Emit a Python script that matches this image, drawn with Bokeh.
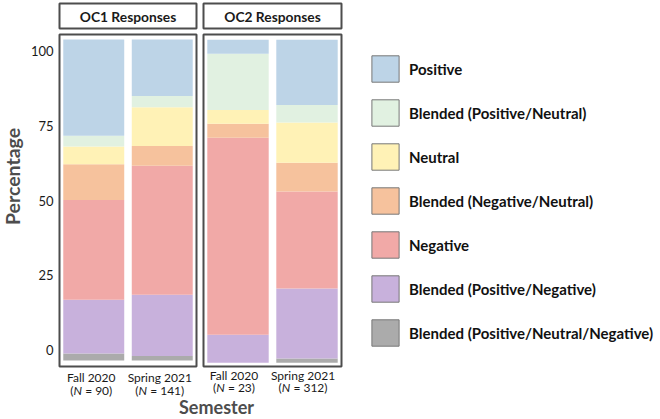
from bokeh.plotting import figure
from bokeh.models import (ColumnDataSource, FactorRange, Range1d, LinearAxis,
                          FixedTicker, Label, Legend, LegendItem)
from bokeh.layouts import row, column
from bokeh.embed import file_html
from bokeh.resources import INLINE

# ---------------- data ----------------
semesters = ["Fall 2020", "Spring 2021"]
panels = ["OC1 Responses", "OC2 Responses"]
n_oc1 = [90, 141]
n_oc2 = [23, 312]

# categories listed from top of legend to bottom
categories = ["Positive", "Blended (Positive/Neutral)", "Neutral",
              "Blended (Negative/Neutral)", "Negative",
              "Blended (Positive/Negative)", "Blended (Positive/Neutral/Negative)"]
colors = ["#BDD4E7", "#E1F1E1", "#FFF2B6", "#F6C29D", "#F1A9A7", "#C8B1DC", "#ABABAB"]

# percentages: [OC1 Fall 2020, OC1 Spring 2021]
oc1_positive = [30.0, 17.6]
oc1_blend_pos_neu = [3.3, 3.5]
oc1_neutral = [5.6, 12.1]
oc1_blend_neg_neu = [11.1, 6.1]
oc1_negative = [31.1, 40.2]
oc1_blend_pos_neg = [16.7, 19.1]
oc1_blend_all = [2.2, 1.4]

# percentages: [OC2 Fall 2020, OC2 Spring 2021]
oc2_positive = [4.3, 20.2]
oc2_blend_pos_neu = [17.4, 5.4]
oc2_neutral = [4.3, 12.5]
oc2_blend_neg_neu = [4.3, 8.9]
oc2_negative = [61.0, 30.0]
oc2_blend_pos_neg = [8.7, 21.7]
oc2_blend_all = [0.0, 1.3]

ytick_vals = [0, 25, 50, 75, 100]

# ---------------- style / layout ----------------
FONT = "Lato"
EDGE = "#4D4D4D"
TXT = "#1A1A1A"
TITLE_C = "#4D4D4D"

TOTAL_W, TOTAL_H = 660, 419
YT_W = 25            # width of the y-title strip
P1_LEFT = 34         # left border of panel 1 (tick labels)
P1_FW = 137          # frame widths
P2_FW = 138
P2_LEFT = 4
RB = 3               # right border of panels
HDR_TOP, HDR_FH, HDR_BOT = 3, 25, 3
P_TOP, FRAME_H, P_BOT = 3, 332, 3
P1_W = P1_LEFT + P1_FW + RB
P2_W = P2_LEFT + P2_FW + RB
LEFT_W = P1_W + P2_W
BOTTOM_H = TOTAL_H - (HDR_TOP + HDR_FH + HDR_BOT) - (P_TOP + FRAME_H + P_BOT)
LF_W = TOTAL_W - YT_W - LEFT_W


def panel_source(vals):
    d = {"semester": semesters}
    for c, v in zip(categories, vals):
        d[c] = v
    return ColumnDataSource(d)


oc1_vals = [oc1_positive, oc1_blend_pos_neu, oc1_neutral, oc1_blend_neg_neu,
            oc1_negative, oc1_blend_pos_neg, oc1_blend_all]
oc2_vals = [oc2_positive, oc2_blend_pos_neu, oc2_neutral, oc2_blend_neg_neu,
            oc2_negative, oc2_blend_pos_neg, oc2_blend_all]


def blank(width, height, **kw):
    f = figure(width=width, height=height, x_range=Range1d(0, 1), y_range=Range1d(0, 1),
               x_axis_location=None, y_axis_location=None,
               toolbar_location=None, output_backend="svg", **kw)
    f.grid.grid_line_color = None
    return f


def make_panel(width, left, vals, yr):
    p = figure(width=width, height=P_TOP + FRAME_H + P_BOT,
               x_range=FactorRange(*semesters, range_padding=0),
               y_range=Range1d(*yr),
               x_axis_location=None, y_axis_location=None,
               toolbar_location=None, output_backend="svg",
               min_border_left=left, min_border_right=RB,
               min_border_top=P_TOP, min_border_bottom=P_BOT,
               outline_line_color=EDGE, outline_line_width=2)
    p.grid.grid_line_color = None
    p.vbar_stack(list(reversed(categories)), x="semester", width=0.89,
                 source=panel_source(vals),
                 fill_color=list(reversed(colors)), line_color=None)
    return p


p1 = make_panel(P1_W, P1_LEFT, oc1_vals, (-1.87, 101.56))
p2 = make_panel(P2_W, P2_LEFT, oc2_vals, (-1.15, 101.64))

# y tick labels (label scale as printed in the original)
p1.extra_y_ranges = {"lab": Range1d(-5.6, 105.6)}
yax = LinearAxis(y_range_name="lab", ticker=FixedTicker(ticks=ytick_vals),
                 axis_line_color=None, major_tick_line_color=None,
                 minor_tick_line_color=None, major_tick_in=0, major_tick_out=0,
                 major_label_standoff=6, major_label_text_font=FONT,
                 major_label_text_font_size="13px", major_label_text_color=TXT)
p1.add_layout(yax, "left")


# headers
def make_header(width, left, fw, text):
    h = blank(width, HDR_TOP + HDR_FH + HDR_BOT,
              min_border_left=left, min_border_right=RB,
              min_border_top=HDR_TOP, min_border_bottom=HDR_BOT,
              outline_line_color=EDGE, outline_line_width=2)
    h.add_layout(Label(x=fw / 2, y=HDR_FH / 2, x_units="screen", y_units="screen",
                       text=text, text_align="center", text_baseline="middle",
                       text_font=FONT, text_font_style="bold",
                       text_font_size="13.8px", text_color=TXT))
    return h


h1 = make_header(P1_W, P1_LEFT, P1_FW, panels[0])
h2 = make_header(P2_W, P2_LEFT, P2_FW, panels[1])

# y title strip
yt = blank(YT_W, TOTAL_H, min_border_left=0, min_border_right=0,
           min_border_top=0, min_border_bottom=0, outline_line_color=None)
yt.add_layout(Label(x=12, y=TOTAL_H - 176, x_units="screen", y_units="screen",
                    text="Percentage", angle=90, angle_units="deg",
                    text_align="center", text_baseline="middle",
                    text_font=FONT, text_font_style="bold",
                    text_font_size="19.5px", text_color=TITLE_C))

# bottom strip: category labels + x title
bt = blank(LEFT_W, BOTTOM_H, min_border_left=0, min_border_right=0,
           min_border_top=0, min_border_bottom=0, outline_line_color=None)

W = {"(": 0.29, ")": 0.29, " ": 0.25, "=": 0.58}   # approx Lato advance widths (em)


def text_w(s, size):
    return sum(W.get(ch, 0.58) for ch in s) * size


SIZE = 12
panel_geo = [(P1_LEFT, P1_FW, n_oc1, (BOTTOM_H - 8, BOTTOM_H - 21), -2.5),
             (P1_W + P2_LEFT, P2_FW, n_oc2, (BOTTOM_H - 6, BOTTOM_H - 18), -4)]
for left, fw, ns, (y1, y2), dx in panel_geo:
    for i, (sem, n) in enumerate(zip(semesters, ns)):
        cx = left + (i + 0.5) * fw / 2 + dx
        bt.add_layout(Label(x=cx, y=y1, x_units="screen", y_units="screen",
                            text=sem, text_align="center", text_baseline="middle",
                            text_font=FONT, text_font_size=f"{SIZE}px", text_color=TXT))
        rest = f"= {n})"
        wN = 0.72 * SIZE
        wsp = text_w(" ", SIZE)
        total = text_w("(", SIZE) + wN + wsp + text_w(rest, SIZE)
        xa = cx - total / 2 + text_w("(", SIZE)
        common = dict(y=y2, x_units="screen", y_units="screen",
                      text_baseline="middle", text_font=FONT,
                      text_font_size=f"{SIZE}px", text_color=TXT)
        bt.add_layout(Label(x=xa, text="(", text_align="right", **common))
        bt.add_layout(Label(x=xa, text="N", text_align="left",
                            text_font_style="italic", **common))
        bt.add_layout(Label(x=xa + wN + wsp, text=rest, text_align="left", **common))

bt.add_layout(Label(x=216 - YT_W, y=12.5, x_units="screen", y_units="screen",
                    text="Semester", text_align="center", text_baseline="middle",
                    text_font=FONT, text_font_style="bold",
                    text_font_size="18px", text_color=TITLE_C))

# legend strip
lf = blank(LF_W, TOTAL_H, min_border_left=0, min_border_right=0,
           min_border_top=0, min_border_bottom=0, outline_line_color=None)
items = []
for name, c in zip(categories, colors):
    r = lf.vbar(x=[-10], top=[-10], width=1, fill_color=c,
                line_color="#777777", line_width=1)
    items.append(LegendItem(label=name, renderers=[r]))
legend = Legend(items=items, location=(24, TOTAL_H - 52 - 297), orientation="vertical",
                glyph_width=34, glyph_height=33, label_height=33, spacing=11,
                padding=0, margin=0, label_standoff=7, border_line_color=None,
                background_fill_alpha=0, label_text_font=FONT,
                label_text_font_style="bold", label_text_font_size="15px",
                label_text_color="#111111")
lf.add_layout(legend)

layout = row(yt, column(row(h1, h2), row(p1, p2), bt), lf)

open("out.html", "w").write(file_html(layout, INLINE))
